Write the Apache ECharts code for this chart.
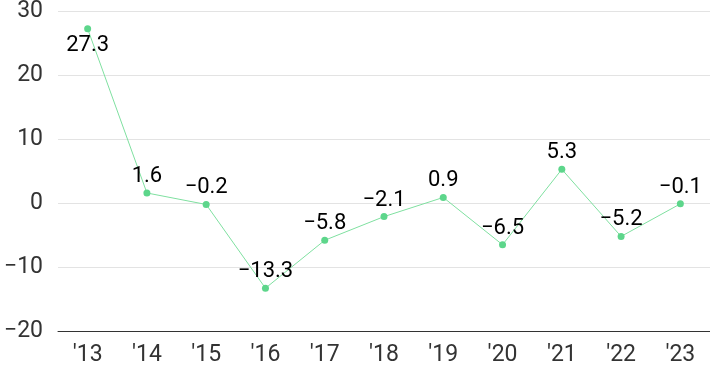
<!DOCTYPE html>
<html><head><meta charset="utf-8">
<script src="https://cdn.jsdelivr.net/npm/echarts@6/dist/echarts.min.js"></script>
<style>html,body{margin:0;padding:0;background:#fff}#c{width:710px;height:371px}</style>
</head><body><div id="c"></div>
<script>
const categories = ["'13","'14","'15","'16","'17","'18","'19","'20","'21","'22","'23"];
const values = [27.3, 1.6, -0.2, -13.3, -5.8, -2.1, 0.9, -6.5, 5.3, -5.2, -0.1];
const yTicks = [-20, -10, 0, 10, 20, 30];

const fmt = v => v < 0 ? '\u2212' + Math.abs(v) : String(v);
const chart = echarts.init(document.getElementById('c'));
chart.setOption({
  animation: false,
  grid: {left: 58, right: 0, top: 8, bottom: 40},
  xAxis: {
    type: 'category', data: categories, boundaryGap: true,
    axisLine: {onZero: false, lineStyle: {color: '#333', width: 1}},
    axisTick: {show: false},
    axisLabel: {color: '#333', fontSize: 23, fontFamily: 'Roboto', margin: 13}
  },
  yAxis: {
    type: 'value', min: yTicks[0], max: yTicks[yTicks.length-1], interval: 10,
    axisLine: {show: false}, axisTick: {show: false},
    splitLine: {lineStyle: {color: '#e3e3e3'}},
    axisLabel: {color: '#333', fontSize: 23, fontFamily: 'Roboto', margin: 15, formatter: fmt}
  },
  series: [{
    type: 'line', data: values.map((v, i) => ({
      value: v,
      label: {position: i === 0 ? 'bottom' : 'top'}
    })),
    symbol: 'circle', symbolSize: 7,
    lineStyle: {color: '#7fe0a0', width: 1},
    itemStyle: {color: '#5dd68b'},
    label: {show: true, color: '#000', fontSize: 22, fontFamily: 'Roboto', distance: 2,
      formatter: p => fmt(p.value)}
  }]
});
</script></body></html>
